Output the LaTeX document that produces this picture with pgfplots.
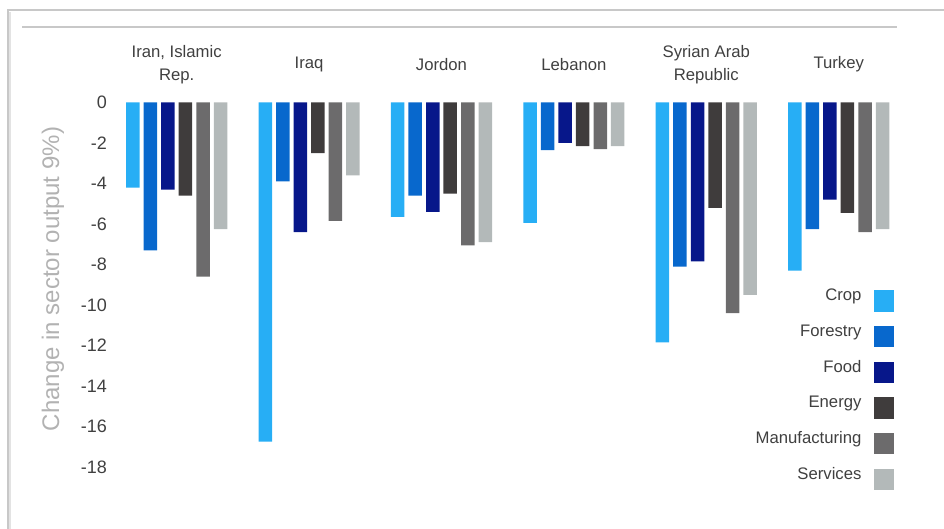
\documentclass[border=0pt]{standalone}
\usepackage{fontspec}
\setmainfont{Liberation Sans}
\usepackage{pgfplots}
\pgfplotsset{compat=1.18}
\definecolor{cCrop}{HTML}{27AEF5}
\definecolor{cFor}{HTML}{0868CD}
\definecolor{cFood}{HTML}{07178A}
\definecolor{cEn}{HTML}{3F3C3C}
\definecolor{cMan}{HTML}{6C6B6C}
\definecolor{cSer}{HTML}{B3B9B9}
\definecolor{txt}{HTML}{404040}
\definecolor{frame}{HTML}{C8C8C8}
\begin{document}
\begin{tikzpicture}
\useasboundingbox (0,0) rectangle (944bp,529bp);
\draw[frame, line width=1.2bp] (8bp,0bp) -- (8bp,519bp) -- (944bp,519bp);
\draw[frame!50, line width=1.5bp] (10bp,0bp) -- (10bp,517bp);
\draw[frame, line width=1.2bp] (22bp,502bp) -- (897bp,502bp);
\begin{axis}[
  at={(110.5bp,31.6bp)}, anchor=south west,
  scale only axis, width=794.4bp, height=394.9bp,
  xmin=-0.5, xmax=5.5, ymin=-19.5, ymax=0,
  ybar, bar width=0.102,
  clip=false,
  axis line style={draw=none}, major tick length=0pt,
  xtick={0,1,2,3,4,5},
  xticklabels={{Iran, Islamic\\Rep.},Iraq,Jordon,Lebanon,{Syrian Arab\\Republic},Turkey},
  xticklabel pos=upper,
  xticklabel style={align=center, anchor=center, yshift=38bp,
    font=\fontsize{16.7bp}{23bp}\selectfont, text=txt},
  ytick={0,-2,-4,-6,-8,-10,-12,-14,-16,-18},
  yticklabels={0,-2,-4,-6,-8,-10,-12,-14,-16,-18},
  yticklabel style={font=\fontsize{18bp}{20bp}\selectfont, text=txt},
  ylabel={Change in sector output 9\%)},
  ylabel style={at={(axis description cs:-0.0724,0.553)}, anchor=center,
    font=\fontsize{24bp}{26bp}\selectfont, text=black!30},
  legend style={at={(axis description cs:0.99,0.535)}, anchor=north east,
    draw=none, fill=none, font=\fontsize{16.7bp}{20bp}\selectfont, text=txt,
    row sep=12bp, nodes={inner sep=1bp}},
  legend cell align=right,
  legend plot pos=right,
  legend image code/.code={\path (0bp,0bp); \fill[#1, draw=none] (12bp,-16bp) rectangle (31.3bp,5.6bp);},
]
\addplot[fill=cCrop, draw=none, bar shift=-0.331] coordinates {(0,-4.2)(1,-16.75)(2,-5.65)(3,-5.95)(4,-11.85)(5,-8.3)};
\addlegendentry{Crop}
\addplot[fill=cFor, draw=none, bar shift=-0.199] coordinates {(0,-7.3)(1,-3.9)(2,-4.6)(3,-2.35)(4,-8.1)(5,-6.25)};
\addlegendentry{Forestry}
\addplot[fill=cFood, draw=none, bar shift=-0.066] coordinates {(0,-4.3)(1,-6.4)(2,-5.4)(3,-2.0)(4,-7.85)(5,-4.8)};
\addlegendentry{Food}
\addplot[fill=cEn, draw=none, bar shift=0.066] coordinates {(0,-4.6)(1,-2.5)(2,-4.5)(3,-2.15)(4,-5.2)(5,-5.45)};
\addlegendentry{Energy}
\addplot[fill=cMan, draw=none, bar shift=0.199] coordinates {(0,-8.6)(1,-5.85)(2,-7.05)(3,-2.3)(4,-10.4)(5,-6.4)};
\addlegendentry{Manufacturing}
\addplot[fill=cSer, draw=none, bar shift=0.331] coordinates {(0,-6.25)(1,-3.6)(2,-6.9)(3,-2.15)(4,-9.5)(5,-6.25)};
\addlegendentry{Services}
\end{axis}
\end{tikzpicture}
\end{document}
